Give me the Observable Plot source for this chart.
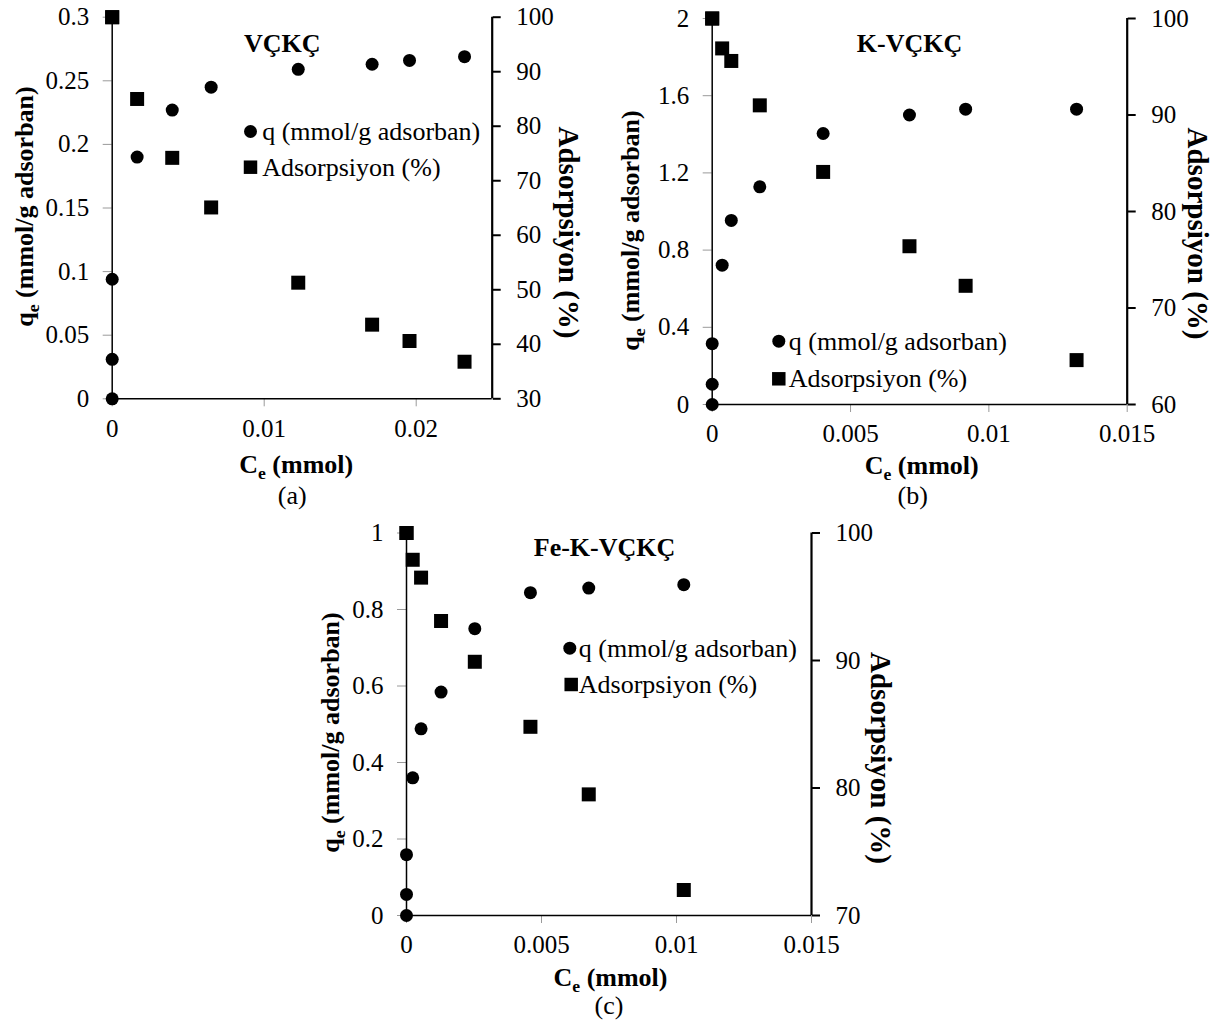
<!DOCTYPE html>
<html>
<head>
<meta charset="utf-8">
<script src="https://cdn.jsdelivr.net/npm/d3@7"></script>
<script src="https://cdn.jsdelivr.net/npm/@observablehq/plot@0.6"></script>
<style>
  body { margin: 0; background: #ffffff; }
  #root { position: relative; width: 1217px; height: 1025px; overflow: hidden; background: #ffffff; }
  .layer { position: absolute; }
</style>
</head>
<body>
<div id="root"></div>
<script>
// ---------- Data ----------
// Panel (a) VÇKÇ
const ceA   = [0, 0, 0, 0.00164, 0.00395, 0.00651, 0.01224, 0.0171, 0.01956, 0.02318];
const qA    = [0, 0.031, 0.094, 0.190, 0.227, 0.245, 0.259, 0.263, 0.266, 0.269];
const adsA  = [null, 100, 100, 85.0, 74.2, 65.1, 51.3, 43.6, 40.6, 36.8];
const xTicksA = [0, 0.01, 0.02];
const qTicksA = [0, 0.05, 0.1, 0.15, 0.2, 0.25, 0.3];
const adsTicksA = [30, 40, 50, 60, 70, 80, 90, 100];

// Panel (b) K-VÇKÇ
const ceB   = [0, 0, 0, 0.00036, 0.00069, 0.00172, 0.00401, 0.00713, 0.00916, 0.01317];
const qB    = [0, 0.105, 0.315, 0.722, 0.954, 1.128, 1.404, 1.500, 1.530, 1.530];
const adsB  = [null, 100, 100, 96.9, 95.6, 91.0, 84.1, 76.4, 72.3, 64.6];
const xTicksB = [0, 0.005, 0.01, 0.015];
const qTicksB = [0, 0.4, 0.8, 1.2, 1.6, 2];
const adsTicksB = [60, 70, 80, 90, 100];

// Panel (c) Fe-K-VÇKÇ
const ceC   = [0, 0, 0, 0.00023, 0.00054, 0.00128, 0.00253, 0.00459, 0.00675, 0.01027];
const qC    = [0, 0.055, 0.159, 0.360, 0.488, 0.584, 0.750, 0.844, 0.856, 0.865];
const adsC  = [null, 100, 100, 97.9, 96.5, 93.1, 89.9, 84.8, 79.5, 72.0];
const xTicksC = [0, 0.005, 0.01, 0.015];
const qTicksC = [0, 0.2, 0.4, 0.6, 0.8, 1];
const adsTicksC = [70, 80, 90, 100];

const legendQ = "q (mmol/g adsorban)";
const legendAds = "Adsorpsiyon (%)";
const leftTitle = "q_e (mmol/g adsorban)";
const rightTitle = "Adsorpsiyon (%)";
const bottomTitle = "C_e (mmol)";

const FONT = "'Liberation Serif', 'Times New Roman', Times, serif";
const fmt = d => String(d);

const panels = [
  {
    left: 0, top: 0, width: 600, height: 515,
    mL: 111.7, mR: 108.3, mT: 16.7, mB: 116.7,
    xDomain: [0, 0.025], qDomain: [0, 0.3], adsDomain: [30, 100],
    xTicks: xTicksA, qTicks: qTicksA, adsTicks: adsTicksA,
    ce: ceA, q: qA, ads: adsA,
    title: "VÇKÇ", titleD: [170, 26.3],
    legC: [138.3, 114.3], legS: [138.3, 150], legT: 150,
    leftT: [-87.7, 189.3], rightT: [76.3, 215.3],
    bottomT: [-6, 66], cap: "(a)", capD: [-10, 97]
  },
  {
    left: 600, top: 0, width: 617, height: 515,
    mL: 111.7, mR: 90.3, mT: 18, mB: 111,
    xDomain: [0, 0.015], qDomain: [0, 2], adsDomain: [60, 100],
    xTicks: xTicksB, qTicks: qTicksB, adsTicks: adsTicksB,
    ce: ceB, q: qB, ads: adsB,
    title: "K-VÇKÇ", titleD: [197.3, 25],
    legC: [66.6, 322.7], legS: [66.6, 360.3], legT: 76.6,
    leftT: [-82, 212], rightT: [70.3, 215],
    bottomT: [2, 61], cap: "(b)", capD: [-7, 91]
  },
  {
    left: 290, top: 515, width: 620, height: 510,
    mL: 116, mR: 99, mT: 17.5, mB: 110,
    xDomain: [0, 0.015], qDomain: [0, 1], adsDomain: [70, 100],
    xTicks: xTicksC, qTicks: qTicksC, adsTicks: adsTicksC,
    ce: ceC, q: qC, ads: adsC,
    title: "Fe-K-VÇKÇ", titleD: [198, 14.5],
    legC: [163.3, 115.2], legS: [164.7, 151.5], legT: 172.3,
    leftT: [-76, 199.5], rightT: [69, 225],
    bottomT: [1.5, 62], cap: "(c)", capD: [0, 90]
  }
];

function subscriptify(svg) {
  d3.select(svg).selectAll("text").each(function () {
    const t = this.textContent;
    if (!t.includes("_e")) return;
    const [before, after] = t.split("_e");
    const sel = d3.select(this);
    sel.text(null);
    sel.append("tspan").text(before);
    sel.append("tspan").attr("font-size", "0.68em").attr("dy", "6").text("e");
    sel.append("tspan").attr("dy", "-6").text(after);
  });
}

const root = document.getElementById("root");

for (const p of panels) {
  const rowsQ = p.ce.map((c, i) => ({ce: c, q: p.q[i]}));
  const rowsA = p.ce.map((c, i) => ({ce: c, a: p.ads[i]})).filter(d => d.a != null);
  const common = {
    width: p.width, height: p.height,
    marginLeft: p.mL, marginRight: p.mR, marginTop: p.mT, marginBottom: p.mB,
    style: {fontFamily: FONT, fontSize: "25px", background: "transparent", overflow: "visible", color: "black"}
  };

  const plot1 = Plot.plot({
    ...common,
    x: {domain: p.xDomain},
    y: {domain: p.qDomain},
    marks: [
      Plot.axisX({ticks: p.xTicks, tickFormat: fmt, tickSize: 8, tickPadding: 12, stroke: "#9a9a9a", strokeWidth: 1, fill: "black", fontSize: 25, label: null}),
      Plot.axisY({ticks: p.qTicks, tickFormat: fmt, tickSize: 9, tickPadding: 14, stroke: "#9a9a9a", strokeWidth: 1, fill: "black", fontSize: 25, label: null}),
      Plot.ruleX([p.xDomain[0]], {stroke: "black", strokeWidth: 1.5}),
      Plot.ruleY([p.qDomain[0]], {stroke: "black", strokeWidth: 1.5}),
      Plot.dot(rowsQ, {x: "ce", y: "q", r: 6.5, fill: "black", stroke: "none"}),
      // panel title
      Plot.text([p.title], {frameAnchor: "top-left", dx: p.titleD[0], dy: p.titleD[1], text: d => d, fontWeight: "bold", fontSize: 26, textAnchor: "middle", lineAnchor: "middle", fill: "black"}),
      // legend
      Plot.dot([legendQ], {frameAnchor: "top-left", dx: p.legC[0], dy: p.legC[1], r: 6.5, fill: "black", stroke: "none"}),
      Plot.dot([legendAds], {frameAnchor: "top-left", dx: p.legS[0], dy: p.legS[1], r: 7.6, symbol: "square", fill: "black", stroke: "none"}),
      Plot.text([legendQ], {frameAnchor: "top-left", dx: p.legT, dy: p.legC[1], text: d => d, fontSize: 26, textAnchor: "start", lineAnchor: "middle", fill: "black"}),
      Plot.text([legendAds], {frameAnchor: "top-left", dx: p.legT, dy: p.legS[1], text: d => d, fontSize: 26, textAnchor: "start", lineAnchor: "middle", fill: "black"}),
      // axis titles
      Plot.text([leftTitle], {frameAnchor: "top-left", dx: p.leftT[0], dy: p.leftT[1], text: d => d, rotate: -90, fontWeight: "bold", fontSize: 26, textAnchor: "middle", lineAnchor: "middle", fill: "black"}),
      Plot.text([bottomTitle], {frameAnchor: "bottom", dx: p.bottomT[0], dy: p.bottomT[1], text: d => d, fontWeight: "bold", fontSize: 26, textAnchor: "middle", lineAnchor: "middle", fill: "black"}),
      Plot.text([p.cap], {frameAnchor: "bottom", dx: p.capD[0], dy: p.capD[1], text: d => d, fontSize: 26, textAnchor: "middle", lineAnchor: "middle", fill: "black"})
    ]
  });
  subscriptify(plot1);

  const plot2 = Plot.plot({
    ...common,
    x: {domain: p.xDomain, axis: null},
    y: {domain: p.adsDomain},
    marks: [
      Plot.axisY({anchor: "right", ticks: p.adsTicks, tickFormat: fmt, tickSize: 8, tickPadding: 16, stroke: "black", strokeWidth: 2, fill: "black", fontSize: 25, label: null}),
      Plot.ruleX([p.xDomain[1]], {stroke: "black", strokeWidth: 2.2}),
      Plot.dot(rowsA, {x: "ce", y: "a", r: 7.9, symbol: "square", fill: "black", stroke: "none"}),
      Plot.text([rightTitle], {frameAnchor: "top-right", dx: p.rightT[0], dy: p.rightT[1], text: d => d, rotate: 90, fontWeight: "bold", fontSize: 29, textAnchor: "middle", lineAnchor: "middle", fill: "black"})
    ]
  });

  for (const el of [plot1, plot2]) {
    el.classList.add("layer");
    el.style.left = p.left + "px";
    el.style.top = p.top + "px";
    root.appendChild(el);
  }
}
</script>
</body>
</html>
